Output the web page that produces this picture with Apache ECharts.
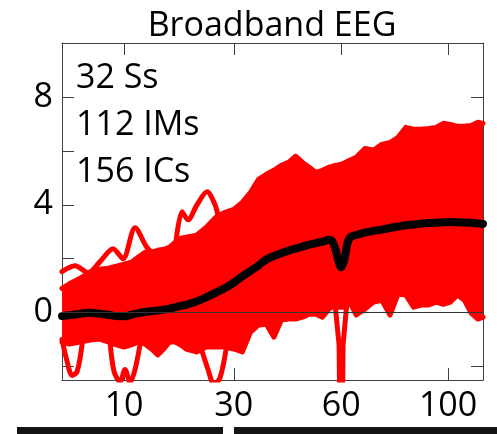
<!DOCTYPE html>
<html>
<head>
<meta charset="utf-8">
<script src="https://cdn.jsdelivr.net/npm/echarts@6/dist/echarts.min.js"></script>
<style>
    html, body { margin: 0; padding: 0; background: #fff; }
    #eegChart { width: 497px; height: 434px; }
</style>
</head>
<body>
<!-- 宽带 EEG 图容器 -->
<div id="eegChart"></div>
<script>
// 频率 (Hz)，横轴按平方根刻度
const freqHz = [3.43, 4, 5, 6, 7, 8, 9, 10, 11, 12, 13, 14, 15, 16, 17, 18, 19, 20, 22, 24, 26, 28, 30,
    32, 34, 36, 38, 40, 42, 44, 46, 48, 50, 52, 54, 56, 57, 58, 59, 60, 61, 62, 63, 65, 68, 71, 74,
    77, 80, 83, 86, 89, 92, 95, 98, 101, 104, 107, 110, 113, 115.3]
// 平均值 (黑线)
const meanPow = [-0.13, -0.1, -0.04, -0.01, -0.04, -0.08, -0.13, -0.14, -0.08, -0.02, 0.02, 0.05, 0.08,
    0.11, 0.15, 0.2, 0.25, 0.29, 0.41, 0.57, 0.74, 0.91, 1.11, 1.35, 1.55, 1.75, 1.97, 2.1, 2.2, 2.3,
    2.37, 2.45, 2.52, 2.58, 2.63, 2.7, 2.66, 2.4, 1.95, 1.68, 1.95, 2.55, 2.8, 2.88, 2.97, 3.03, 3.08,
    3.14, 3.19, 3.24, 3.27, 3.3, 3.32, 3.33, 3.35, 3.36, 3.35, 3.34, 3.33, 3.31, 3.29]
// 红色成分的上下包络
const upperEnv = [0.9, 1.06, 1.28, 1.5, 1.61, 1.65, 1.72, 1.8, 1.87, 2.06, 2.24, 2.24, 2.31, 2.35, 2.43,
    2.61, 2.76, 2.8, 2.87, 3.17, 3.54, 3.72, 3.83, 4.09, 4.46, 4.94, 5.13, 5.28, 5.46, 5.57, 5.8, 5.57,
    5.39, 5.2, 5.28, 5.39, 5.42, 5.46, 5.48, 5.5, 5.55, 5.61, 5.66, 5.76, 6.09, 6.02, 6.24, 6.31, 6.5,
    6.87, 6.8, 6.8, 6.83, 6.87, 7.02, 6.98, 6.91, 6.91, 6.94, 7.06, 7.02]
const lowerEnv = [-1.09, -1.17, -1.09, -1.02, -0.98, -1.09, -1.2, -1.28, -1.2, -1.09, -1.17, -1.35, -1.57,
    -1.35, -1.09, -1.09, -1.2, -1.35, -1.46, -1.28, -1.28, -1.28, -1.35, -1.46, -0.72, -0.46, -0.43,
    -0.91, -0.28, -0.24, -0.24, -0.17, -0.06, -0.06, -0.17, 0.13, 0.2, 0.2, 0.2, 0.2, 0.2, 0.28, 0.35,
    -0.09, 0.13, 0.39, 0.46, -0.09, 0.69, 0.65, 0.2, 0.28, 0.28, 0.39, 0.31, 0.39, 0.65, 0.46, -0.02,
    -0.24, -0.17]

// 突出的单条成分曲线
const peakA_hz = [3.43, 4.53, 5.77, 7.05, 8.58, 9.86, 11.52, 13.3, 15.0]
const peakA_val = [1.52, 1.74, 1.48, 1.89, 2.37, 2.0, 3.15, 2.41, 2.04]
const peakB_hz = [17.96, 19.23, 20.36, 22.11, 24.14, 25.83, 27.35, 29.6]
const peakB_val = [2.33, 3.74, 3.44, 4.0, 4.48, 4.0, 3.26, 3.63]
const dipA_hz = [3.43, 3.84, 4.26, 4.71, 5.18]
const dipA_val = [-1.0, -1.81, -2.33, -2.19, -1.19]
const dipB_hz = [8.21, 8.71, 9.47, 10.13, 10.81, 11.52, 12.24]
const dipB_val = [-1.07, -2.19, -2.56, -2.11, -2.6, -2.11, -1.19]
const dipC_hz = [22.71, 24.35, 25.62, 26.91, 28.24]
const dipC_val = [-1.19, -2.11, -2.67, -2.41, -1.37]
// 60 Hz 工频尖峰
const line60_hz = [58, 59.3, 59.5, 60.0, 60.4, 60.6, 61.8]
const line60_val = [0.3, -1.2, -3.6, -3.6, -3.6, -1.2, 0.3]

// 刻度
const xTickHz = [10, 30, 60, 100]
const yTickVals = [-2, 0, 2, 4, 6, 8]
const yLabelVals = [0, 4, 8]
const infoLines = ['32 Ss', '112 IMs', '156 ICs']

const FONT = 'Open Sans'
const RED = '#ff0000'

function sx(f) {
    return Math.sqrt(f)
}

function pairs(hz, vals) {
    return hz.map((f, i) => [sx(f), vals[i]])
}

function redTrace(hz, vals, smooth) {
    return {
        type: 'line',
        data: pairs(hz, vals),
        showSymbol: false,
        smooth: smooth,
        lineStyle: { color: RED, width: 5, cap: 'round', join: 'round' },
        z: 2,
        silent: true
    }
}

function initChart() {
    var chartDom = document.getElementById('eegChart');
    var myChart = echarts.init(chartDom);

    const axisLineStyle = { color: '#404040', width: 1 }
    const xTicks = xTickHz.map(sx)

    var option = {
        animation: false,
        grid: { left: 62, top: 43, right: 14, bottom: 54 },
        graphic: [
            {
                type: 'text', x: 272, y: 9,
                style: { text: 'Broadband EEG', font: '34px "' + FONT + '"', fill: '#000', align: 'center' }
            },
            ...infoLines.map((t, i) => ({
                type: 'text', x: 76, y: 61 + i * 47,
                style: { text: t, font: '34px "' + FONT + '"', fill: '#000' }
            })),
            // 底部下一幅图的边缘
            { type: 'rect', shape: { x: 17, y: 427, width: 206, height: 8 }, style: { fill: '#141414' } },
            { type: 'rect', shape: { x: 234, y: 427, width: 263, height: 8 }, style: { fill: '#141414' } }
        ],
        xAxis: [
            {
                type: 'value',
                position: 'bottom',
                min: sx(freqHz[0]),
                max: sx(freqHz[freqHz.length - 1]),
                axisLine: { show: true, onZero: false, lineStyle: axisLineStyle },
                axisTick: { show: true, inside: true, length: 12, customValues: xTicks, lineStyle: axisLineStyle },
                axisLabel: {
                    customValues: xTicks,
                    formatter: v => String(Math.round(v * v)),
                    fontSize: 34, fontFamily: FONT, color: '#000', margin: 9
                },
                splitLine: { show: false }
            },
            {
                type: 'value',
                position: 'top',
                min: sx(freqHz[0]),
                max: sx(freqHz[freqHz.length - 1]),
                axisLine: { show: true, onZero: false, lineStyle: axisLineStyle },
                axisTick: { show: true, inside: true, length: 12, customValues: xTicks, lineStyle: axisLineStyle },
                axisLabel: { show: false },
                splitLine: { show: false }
            }
        ],
        yAxis: [
            {
                type: 'value',
                position: 'left',
                min: -2.5,
                max: 10,
                axisLine: { show: true, onZero: false, lineStyle: axisLineStyle },
                axisTick: { show: true, inside: true, length: 12, customValues: yTickVals, lineStyle: axisLineStyle },
                axisLabel: {
                    customValues: yLabelVals,
                    fontSize: 34, fontFamily: FONT, color: '#000', margin: 9
                },
                splitLine: { show: false }
            },
            {
                type: 'value',
                position: 'right',
                min: -2.5,
                max: 10,
                axisLine: { show: true, onZero: false, lineStyle: axisLineStyle },
                axisTick: { show: true, inside: true, length: 12, customValues: yTickVals, lineStyle: axisLineStyle },
                axisLabel: { show: false },
                splitLine: { show: false }
            }
        ],
        series: [
            // 包络之间的填充
            {
                type: 'custom',
                data: [0],
                clip: true,
                z: 2,
                silent: true,
                renderItem: function (params, api) {
                    const top = freqHz.map((f, i) => api.coord([sx(f), upperEnv[i]]))
                    const bottom = freqHz.map((f, i) => api.coord([sx(f), lowerEnv[i]])).reverse()
                    return {
                        type: 'polygon',
                        shape: { points: top.concat(bottom) },
                        style: { fill: RED }
                    }
                }
            },
            redTrace(freqHz, upperEnv, false),
            redTrace(freqHz, lowerEnv, false),
            redTrace(peakA_hz, peakA_val, 0.3),
            redTrace(peakB_hz, peakB_val, 0.3),
            redTrace(dipA_hz, dipA_val, 0.3),
            redTrace(dipB_hz, dipB_val, 0.3),
            redTrace(dipC_hz, dipC_val, 0.3),
            redTrace(line60_hz, line60_val, false),
            // 零线
            {
                type: 'line',
                data: pairs(freqHz, meanPow),
                showSymbol: false,
                lineStyle: { opacity: 0 },
                z: 3,
                silent: true,
                markLine: {
                    silent: true,
                    symbol: 'none',
                    label: { show: false },
                    lineStyle: { color: '#333', width: 1, type: 'solid' },
                    data: [{ yAxis: 0 }]
                }
            },
            // 平均值
            {
                type: 'line',
                data: pairs(freqHz, meanPow),
                showSymbol: false,
                smooth: 0.3,
                lineStyle: { color: '#000', width: 8, join: 'round', cap: 'round' },
                z: 4,
                silent: true
            }
        ]
    };

    option && myChart.setOption(option);
}

initChart()
</script>
</body>
</html>
